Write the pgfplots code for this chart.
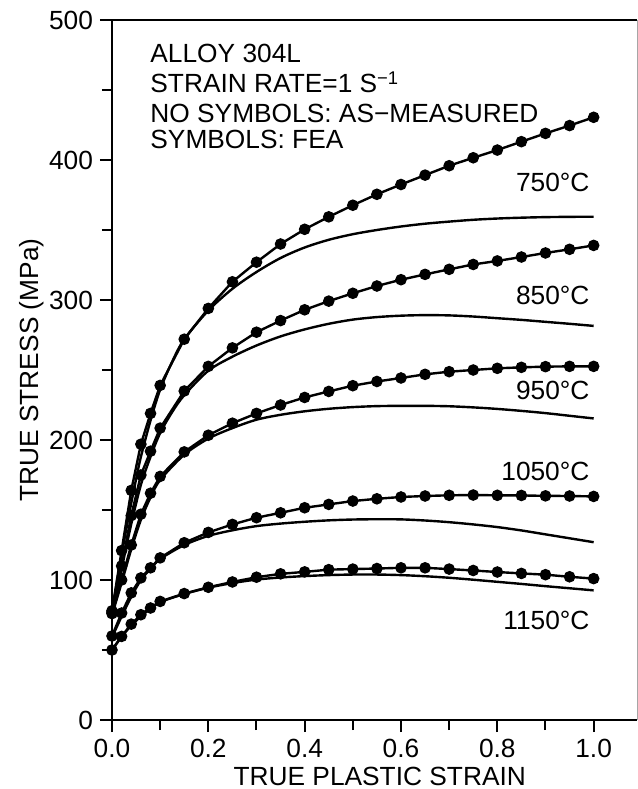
\documentclass[border=0pt]{standalone}
\usepackage{fontspec}
\setmainfont{Liberation Sans}
\usepackage{pgfplots}
\pgfplotsset{compat=1.18}
\usepackage{pgfplotstable}
\newcommand{\fs}{\fontsize{13.15}{15.5}\selectfont}

% FEA (symbols)
\pgfplotstableread{
x y
0 78
0.02 121
0.04 164
0.06 197
0.08 219
0.1 239
0.15 272
0.2 294
0.25 313
0.3 327
0.35 340
0.4 350.5
0.45 359.4
0.5 367.7
0.55 375.5
0.6 382.5
0.65 389.2
0.7 395.9
0.75 401.6
0.8 407.1
0.85 413.1
0.9 419
0.95 424.6
1.0 430.5
}\feaA
\pgfplotstableread{
x y
0 77
0.02 110
0.04 146
0.06 175
0.08 192
0.1 208.5
0.15 235
0.2 252.6
0.25 265.8
0.3 277
0.35 285.3
0.4 293
0.45 299.2
0.5 304.8
0.55 310
0.6 314.5
0.65 318.3
0.7 321.9
0.75 325.4
0.8 327.9
0.85 330.7
0.9 333.6
0.95 336.2
1.0 339
}\feaB
\pgfplotstableread{
x y
0 76
0.02 100
0.04 125
0.06 147
0.08 162
0.1 174
0.15 191.5
0.2 203.4
0.25 212
0.3 219
0.35 225
0.4 230.4
0.45 234.7
0.5 238.8
0.55 241.8
0.6 244.3
0.65 246.9
0.7 248.8
0.75 250
0.8 251.2
0.85 251.9
0.9 252.4
0.95 252.6
1.0 252.6
}\feaC
\pgfplotstableread{
x y
0 60
0.02 76.4
0.04 90.8
0.06 101.5
0.08 108.7
0.1 115.8
0.15 126.6
0.2 134
0.25 139.7
0.3 144.5
0.35 148
0.4 151.6
0.45 154
0.5 156.4
0.55 158
0.6 159.3
0.65 160
0.7 160.5
0.75 160.7
0.8 160.5
0.85 160.4
0.9 160.1
0.95 160
1.0 159.7
}\feaD
\pgfplotstableread{
x y
0 50
0.02 59.7
0.04 68.5
0.06 75.2
0.08 80
0.1 84.7
0.15 90.3
0.2 94.8
0.25 98.6
0.3 102
0.35 104.4
0.4 105.8
0.45 107.4
0.5 107.8
0.55 108.2
0.6 108.7
0.65 108.7
0.7 107.8
0.75 106.8
0.8 105.7
0.85 104.7
0.9 103.8
0.95 102.3
1.0 101
}\feaE

% As-measured (no symbols)
\pgfplotstableread{
x y
0 76
0.01 98
0.02 118
0.03 137
0.04 155
0.05 172
0.06 188
0.08 214
0.1 236
0.125 256
0.15 272
0.2 292.5
0.25 308
0.3 320
0.35 330
0.4 337.5
0.45 343
0.5 347
0.55 350
0.6 352.5
0.65 354.5
0.7 356
0.75 357.3
0.8 358.2
0.85 358.8
0.9 359.2
0.95 359.4
1.0 359.5
}\expA
\pgfplotstableread{
x y
0 76
0.02 108
0.04 140
0.06 168
0.08 188
0.1 205
0.125 220
0.15 232
0.2 249.5
0.25 259.5
0.3 267.5
0.35 274
0.4 279
0.45 283
0.5 286
0.55 287.8
0.6 288.8
0.65 289.2
0.7 289
0.75 288.2
0.8 287
0.85 285.8
0.9 284.4
0.95 283
1.0 281.5
}\expB
\pgfplotstableread{
x y
0 75
0.02 98
0.04 122
0.06 143
0.08 159
0.1 171.5
0.15 189.5
0.2 201
0.25 208.5
0.3 214.5
0.35 218
0.4 220.5
0.45 222.3
0.5 223.5
0.55 224.2
0.6 224.4
0.65 224.4
0.7 224.1
0.75 223.3
0.8 222.2
0.85 220.8
0.9 219.2
0.95 217.3
1.0 215.4
}\expC
\pgfplotstableread{
x y
0 59
0.02 74
0.04 88
0.06 100
0.08 108
0.1 115
0.15 125
0.2 131.5
0.25 135.5
0.3 138.5
0.35 140.3
0.4 141.6
0.45 142.6
0.5 143.2
0.55 143.4
0.6 143.3
0.65 142.5
0.7 141.3
0.75 139.7
0.8 137.8
0.85 135.4
0.9 132.6
0.95 129.8
1.0 127
}\expD
\pgfplotstableread{
x y
0 50
0.02 59.5
0.04 67.5
0.06 74
0.08 79.5
0.1 84.2
0.15 90
0.2 94.5
0.25 97.8
0.3 100.3
0.35 101.8
0.4 102.8
0.45 103.5
0.5 103.9
0.55 103.9
0.6 103.5
0.65 102.7
0.7 101.6
0.75 100.2
0.8 98.7
0.85 97.2
0.9 95.6
0.95 94.1
1.0 92.6
}\expE

\begin{document}
\begin{tikzpicture}
\path[use as bounding box] (-56pt,-34.5pt) rectangle (263pt,360pt);
\begin{axis}[
  at={(0pt,0pt)}, anchor=south west,
  scale only axis, width=262.5pt, height=350pt,
  xmin=0, xmax=1.09, ymin=0, ymax=500,
  axis x line*=bottom, axis y line*=left,
  axis line style={line width=1.3pt, black},
  tick style={line width=1pt, black},
  tick align=outside,
  major tick length=6pt, minor tick length=5pt,
  xtick={0,0.2,0.4,0.6,0.8,1.0}, minor xtick={0.1,0.3,0.5,0.7,0.9},
  ytick={0,100,200,300,400,500}, minor ytick={50,150,250,350,450},
  xticklabel style={/pgf/number format/.cd, fixed, fixed zerofill, precision=1},
  /pgf/number format/assume math mode=true,
  tick label style={font=\fs},
  label style={font=\fs},
  xlabel={TRUE PLASTIC STRAIN},
  ylabel={TRUE STRESS (MPa)},
  xlabel style={at={(axis description cs:0.51,-0.08)}, anchor=center},
  ylabel style={at={(axis description cs:-0.1524,0.5)}, anchor=center},
  clip=false,
  fea/.style={black, line width=1.2pt, mark=*, mark size=2.6pt, mark options={solid, fill=black, line width=0.6pt}},
  meas/.style={black, line width=1.2pt, smooth, no markers},
]
\draw[line width=1.3pt] (rel axis cs:0,1) -- (rel axis cs:1,1);
\draw[line width=0.4pt, black!35] (rel axis cs:1,0) -- (rel axis cs:1,1);

\addplot[meas] table {\expA};
\addplot[meas] table {\expB};
\addplot[meas] table {\expC};
\addplot[meas] table {\expD};
\addplot[meas] table {\expE};
\addplot[fea] table {\feaA};
\addplot[fea] table {\feaB};
\addplot[fea] table {\feaC};
\addplot[fea] table {\feaD};
\addplot[fea] table {\feaE};

\node[font=\fs, anchor=base west, inner sep=0pt] at (axis cs:0.079,470) {ALLOY 304L};
\node[font=\fs, anchor=base west, inner sep=0pt] at (axis cs:0.079,448) {STRAIN RATE=1 S\textsuperscript{−1}};
\node[font=\fs, anchor=base west, inner sep=0pt] at (axis cs:0.079,426.5) {NO SYMBOLS: AS−MEASURED};
\node[font=\fs, anchor=base west, inner sep=0pt] at (axis cs:0.079,408) {SYMBOLS: FEA};

\node[font=\fs, anchor=base east, inner sep=0pt] at (axis cs:0.992,377.4) {750°C};
\node[font=\fs, anchor=base east, inner sep=0pt] at (axis cs:0.992,297) {850°C};
\node[font=\fs, anchor=base east, inner sep=0pt] at (axis cs:0.992,228.6) {950°C};
\node[font=\fs, anchor=base east, inner sep=0pt] at (axis cs:0.992,171.4) {1050°C};
\node[font=\fs, anchor=base east, inner sep=0pt] at (axis cs:0.992,64.3) {1150°C};
\end{axis}
\end{tikzpicture}
\end{document}
